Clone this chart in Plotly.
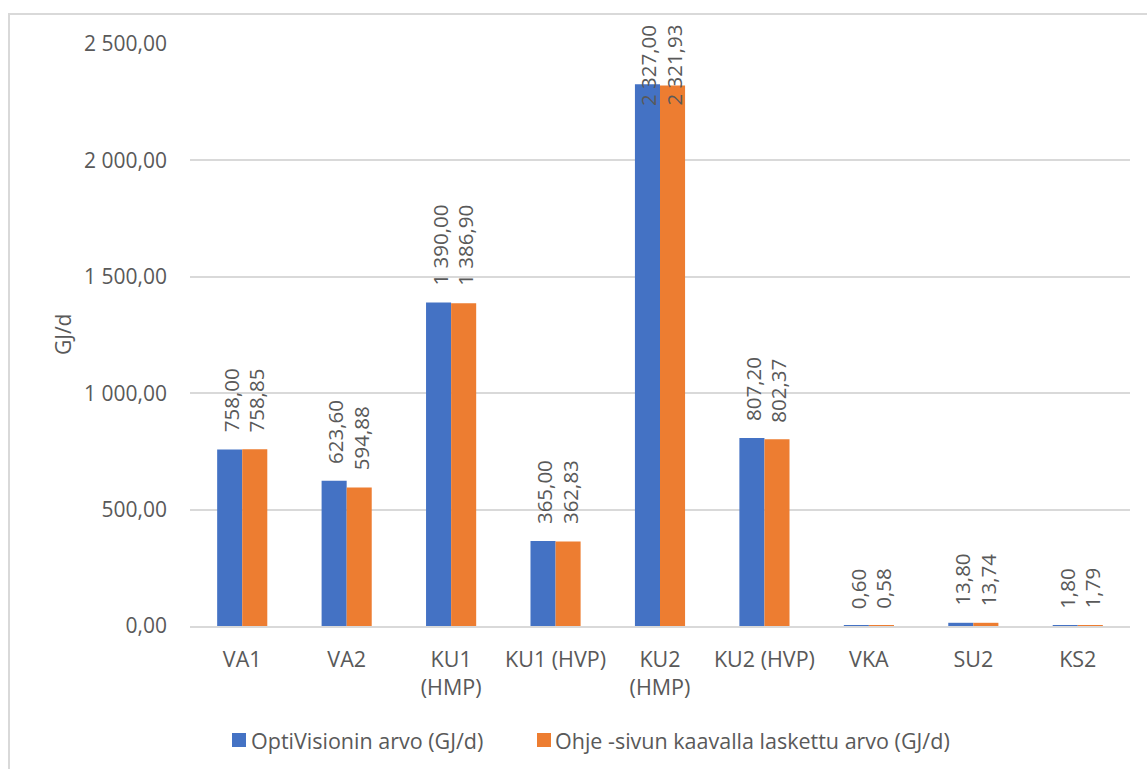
import plotly.graph_objects as go

# Daily energy per unit, two calculation methods
categories = ["VA1", "VA2", "KU1<br>(HMP)", "KU1 (HVP)", "KU2<br>(HMP)",
              "KU2 (HVP)", "VKA", "SU2", "KS2"]
optivision = [758.00, 623.60, 1390.00, 365.00, 2327.00, 807.20, 0.60, 13.80, 1.80]
ohje = [758.85, 594.88, 1386.90, 362.83, 2321.93, 802.37, 0.58, 13.74, 1.79]
series_names = ["OptiVisionin arvo (GJ/d)", "Ohje -sivun kaavalla laskettu arvo (GJ/d)"]
y_ticks = [0, 500, 1000, 1500, 2000, 2500]

BLUE = "#4472C4"
ORANGE = "#ED7D31"
TEXT = "#595959"
GRID = "#D9D9D9"
FONT = "Open Sans"

W, H = 1147, 769
L, R, T, B = 190, 17, 44, 143
PW, PH = W - L - R, H - T - B
Y_MAX = 2500


def px_x(px):
    return (px - L) / PW


def px_y(py):
    return (H - B - py) / PH


def fi_num(v):
    s = f"{v:,.2f}"
    return s.replace(",", "\u00a0").replace(".", ",")


fig = go.Figure()
for name, vals, col in [(series_names[0], optivision, BLUE),
                        (series_names[1], ohje, ORANGE)]:
    fig.add_trace(go.Bar(x=categories, y=vals, name=name, marker_color=col,
                         marker_line_width=0, showlegend=False))

# value labels, rotated, above each bar
annotations = []
ppu = PH / Y_MAX
for vals, shift in [(optivision, -11.5), (ohje, 14)]:
    for cat, v in zip(categories, vals):
        txt = fi_num(v)
        est_len = len(txt) * 10.4
        top_px = (H - B) - v * ppu - 15 - est_len
        if top_px < 23:
            annotations.append(dict(x=cat, y=px_y(23), yref="paper", xref="x",
                                    text=txt, textangle=-90, showarrow=False,
                                    xanchor="center", yanchor="top", xshift=shift,
                                    font=dict(family=FONT, size=20.5, color=TEXT)))
        else:
            annotations.append(dict(x=cat, y=v, xref="x", yref="y", text=txt,
                                    textangle=-90, showarrow=False,
                                    xanchor="center", yanchor="bottom",
                                    xshift=shift, yshift=15,
                                    font=dict(family=FONT, size=20.5, color=TEXT)))

# axis title
annotations.append(dict(x=px_x(63), y=0.5, xref="paper", yref="paper", text="GJ/d",
                        textangle=-90, showarrow=False, xanchor="center",
                        yanchor="middle", font=dict(family=FONT, size=21, color=TEXT)))

# legend
shapes = []
for (sx, tx), col, name in zip([(232, 249), (537, 553)], [BLUE, ORANGE], series_names):
    shapes.append(dict(type="rect", xref="paper", yref="paper",
                       x0=px_x(sx), x1=px_x(sx + 14), y0=px_y(747), y1=px_y(733),
                       fillcolor=col, line_width=0))
    annotations.append(dict(x=px_x(tx), y=px_y(740), xref="paper", yref="paper",
                            text=name, showarrow=False, xanchor="left",
                            yanchor="middle",
                            font=dict(family=FONT, size=21.5, color=TEXT)))

# chart frame
shapes.append(dict(type="rect", xref="paper", yref="paper", layer="below",
                   x0=px_x(9), x1=px_x(W + 20), y0=px_y(H + 20), y1=px_y(14),
                   line=dict(color=GRID, width=2), fillcolor="rgba(0,0,0,0)"))

fig.update_layout(
    width=W, height=H, autosize=False,
    margin=dict(l=L, r=R, t=T, b=B, pad=0),
    paper_bgcolor="white", plot_bgcolor="white",
    barmode="group", bargap=0.52, bargroupgap=0,
    separators=", ",
    font=dict(family=FONT, size=20, color=TEXT),
    annotations=annotations, shapes=shapes,
    xaxis=dict(type="category", showgrid=False, showline=True, linecolor=GRID,
               linewidth=2, ticks="", ticklabelstandoff=13,
               tickfont=dict(family=FONT, size=21.5, color=TEXT)),
    yaxis=dict(range=[0, Y_MAX], tickvals=y_ticks, tickformat=",.2f",
               showgrid=True, gridcolor=GRID, gridwidth=1.5, zeroline=False,
               showline=False, ticks="", ticklabelstandoff=22,
               tickfont=dict(family=FONT, size=21, color=TEXT)),
)

fig.write_html("out.html")
